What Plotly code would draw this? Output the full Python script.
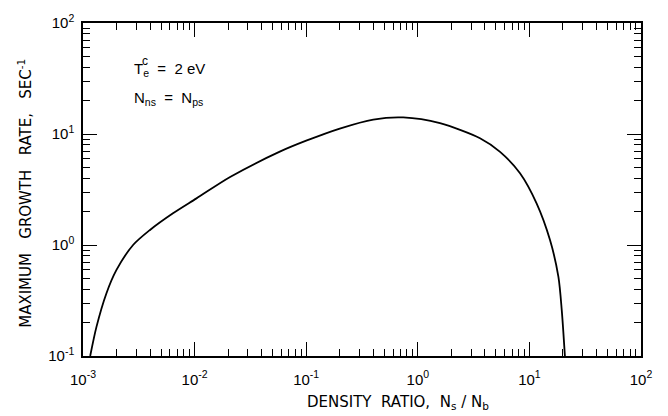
import plotly.graph_objects as go

# Data (density ratio vs maximum growth rate)
density_ratio = [1.16e-3, 1.32e-3, 1.62e-3, 1.99e-3, 2.81e-3, 3.96e-3, 6.4e-3, 1.04e-2,
                 2.08e-2, 5.8e-2, 0.1, 0.2, 0.399, 0.741, 1.58, 3.61, 5.46, 8.24, 11.6,
                 15.3, 18.2, 19.5, 20.8]
growth_rate = [0.1, 0.183, 0.366, 0.593, 1.0, 1.36, 1.93, 2.63,
               4.1, 6.93, 8.7, 11.2, 13.5, 14.1, 12.5, 9.16, 6.9, 4.43, 2.37,
               1.107, 0.516, 0.258, 0.1]

x_tickvals = [1e-3, 1e-2, 1e-1, 1e0, 1e1, 1e2]
x_ticktext = ["10<sup>-3</sup>", "10<sup>-2</sup>", "10<sup>-1</sup>", "10<sup>0</sup>",
              "10<sup>1</sup>", "10<sup>2</sup>"]
y_tickvals = [1e-1, 1e0, 1e1, 1e2]
y_ticktext = ["10<sup>-1</sup>", "10<sup>0</sup>", "10<sup>1</sup>", "10<sup>2</sup>"]

x_minor = [d * 10.0 ** e for e in range(-3, 2) for d in range(2, 10)]
y_minor = [d * 10.0 ** e for e in range(-1, 2) for d in range(2, 10)]

FONT = "Liberation Sans"
TFONT = "DejaVu Sans"

fig = go.Figure()
fig.add_trace(go.Scatter(
    x=density_ratio, y=growth_rate, mode="lines",
    line=dict(color="black", width=1.8, shape="spline", smoothing=0.8),
    showlegend=False, hoverinfo="skip",
))

axis_common = dict(
    type="log", showgrid=False, zeroline=False, automargin=False,
    showline=True, linecolor="black", linewidth=1.5, mirror="allticks",
    ticks="inside", ticklen=14, tickwidth=1.2, tickcolor="black",
    tickfont=dict(family=FONT, size=15, color="black"),
)

fig.update_xaxes(range=[-3, 2], tickvals=x_tickvals, ticktext=x_ticktext,
                 ticklabelstandoff=9,
                 minor=dict(tickvals=x_minor, ticks="inside", ticklen=7, tickwidth=1,
                            tickcolor="black", showgrid=False),
                 **axis_common)
fig.update_yaxes(range=[-1, 2], tickvals=y_tickvals, ticktext=y_ticktext,
                 ticklabelstandoff=4,
                 minor=dict(tickvals=y_minor, ticks="inside", ticklen=7, tickwidth=1,
                            tickcolor="black", showgrid=False),
                 **axis_common)

fig.add_annotation(text="DENSITY  RATIO,  N<sub>s</sub> / N<sub>b</sub>",
                   xref="paper", yref="paper", x=0.565, y=-0.14,
                   xanchor="center", yanchor="middle", showarrow=False,
                   font=dict(family=TFONT, size=15, color="black"))
fig.add_annotation(text="MAXIMUM   GROWTH   RATE,   SEC<sup>-1</sup>",
                   xref="paper", yref="paper", x=-0.104, y=0.49, textangle=-90,
                   xanchor="center", yanchor="middle", showarrow=False,
                   font=dict(family=TFONT, size=15, color="black"))
fig.add_annotation(text="T<sub>e</sub>  =  2 eV",
                   xref="paper", yref="paper", x=0.087, y=0.86,
                   xanchor="left", yanchor="middle", showarrow=False,
                   font=dict(family=FONT, size=15, color="black"))
fig.add_annotation(text="c",
                   xref="paper", yref="paper", x=0.103, y=0.885,
                   xanchor="left", yanchor="middle", showarrow=False,
                   font=dict(family=FONT, size=12, color="black"))
fig.add_annotation(text="N<sub>ns</sub>  =  N<sub>ps</sub>",
                   xref="paper", yref="paper", x=0.087, y=0.772,
                   xanchor="left", yanchor="middle", showarrow=False,
                   font=dict(family=FONT, size=15, color="black"))

# The page body adds an 8px offset, so the figure is sized to fit the window.
fig.update_layout(
    width=660, height=408,
    margin=dict(l=75, r=27, t=15, b=60),
    paper_bgcolor="white", plot_bgcolor="white",
    font=dict(family=FONT, color="black"),
)

fig.write_html("out.html")
